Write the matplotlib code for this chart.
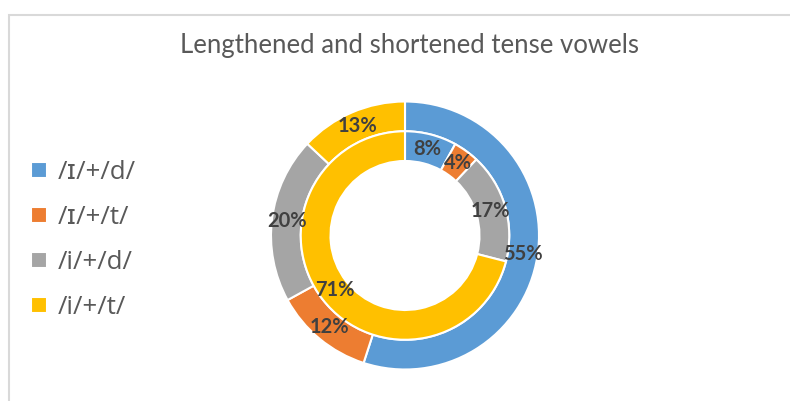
import matplotlib.pyplot as plt
from matplotlib.patches import Rectangle

# Series data: outer ring and inner ring shares (percent)
categories = ['/ɪ/+/d/', '/ɪ/+/t/', '/i/+/d/', '/i/+/t/']
outer_values = [55, 12, 20, 13]
inner_values = [8, 4, 17, 71]
colors = ['#5B9BD5', '#ED7D31', '#A5A5A5', '#FFC000']

plt.rcParams['font.family'] = ['Lato', 'DejaVu Sans']

fig = plt.figure(figsize=(7.9, 4.01), dpi=100)

# chart area border
fig.patches.append(Rectangle((8.5 / 790, -0.1), 1.2, 1.1 - 14.5 / 401,
                             transform=fig.transFigure, fill=False,
                             edgecolor='#D9D9D9', linewidth=1.5))

cx, cy, r = 405, 401 - 235.5, 134
ax = fig.add_axes([(cx - r) / 790, (cy - r) / 401, 2 * r / 790, 2 * r / 401])

ring = 0.222
wedge_style = dict(width=ring, edgecolor='white', linewidth=1.5)
label_style = dict(fontsize=14.5, fontweight='bold', color='#404040')

outer, _, _ = ax.pie(outer_values, radius=1.0, colors=colors, startangle=90,
                     counterclock=False, wedgeprops=wedge_style,
                     autopct='%d%%', pctdistance=1 - ring / 2,
                     textprops=label_style)
ax.pie(inner_values, radius=1 - ring, colors=colors, startangle=90,
       counterclock=False, wedgeprops=wedge_style,
       autopct='%d%%', pctdistance=(1 - 1.5 * ring) / (1 - ring),
       textprops=label_style)
ax.set_xlim(-1, 1)
ax.set_ylim(-1, 1)

fig.text(410 / 790, 1 - 45 / 401, 'Lengthened and shortened tense vowels',
         ha='center', va='center', fontsize=18.5, color='#595959')

# legend in Open Sans so the small capital ɪ keeps its serifs
fig.legend(outer, categories, loc='center left',
           bbox_to_anchor=(8 / 790, 1 - 240 / 401), frameon=False,
           prop={'family': ['Open Sans', 'DejaVu Sans'], 'size': 18.5},
           labelcolor='#595959', handlelength=0.62, handleheight=0.62,
           handletextpad=0.4, labelspacing=0.78)

fig.savefig('out.png', dpi=100)
